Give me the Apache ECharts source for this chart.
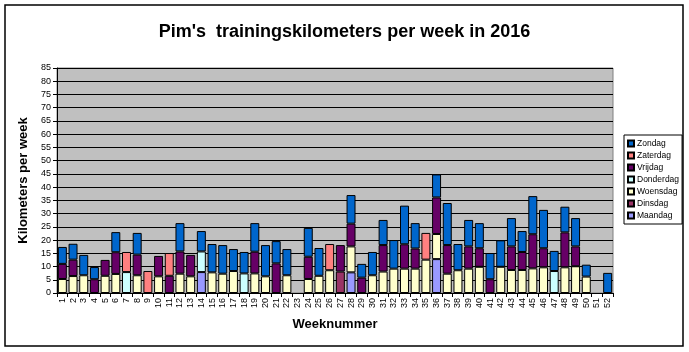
<!DOCTYPE html>
<html>
<head>
<meta charset="utf-8">
<script src="https://cdn.jsdelivr.net/npm/echarts@6/dist/echarts.min.js"></script>
<style>
  html, body { margin: 0; padding: 0; background: #fff; }
  #chart { width: 689px; height: 352px; }
</style>
</head>
<body>
<div id="chart"></div>
<script type="text/javascript">
    var n = null;
    var weeks = [];
    for (var w = 1; w <= 52; w++) { weeks.push(String(w)); }

    // km per day, per week (null = not trained that day)
    var maandag = [n,n,n,n,n,n,n,n,n,n,n,n,n,
                   7.9,n,n,n,n,n,n,n,n,n,n,n,n,
                   n,7.8,n,n,n,n,n,n,n,12.8,n,n,n,
                   n,n,n,n,n,n,n,n,n,n,n,n,n];
    var dinsdag = [n,n,n,n,n,n,n,n,n,n,n,n,n,
                   n,n,n,n,n,n,n,n,n,n,n,n,n,
                   8.1,n,n,n,n,n,n,n,n,n,n,n,n,
                   n,n,n,n,n,n,n,n,n,n,n,n,n];
    var woensdag = [5.3,6.4,6.7,n,6.5,7.2,n,6.7,n,6.3,n,7.3,6.3,
                    n,7.8,7.3,8.3,n,7.4,6.3,n,6.7,n,5.3,6.5,8.6,
                    n,9.8,n,6.7,8.1,9.2,9.2,9.2,12.6,9.5,7.3,8.6,9.2,
                    9.9,n,9.9,8.7,8.7,9.3,9.7,n,9.7,10.1,6.2,n,n];
    var donderdag = [n,n,n,n,n,n,7.9,n,n,n,n,n,n,
                     7.8,n,n,n,7.4,n,n,n,n,n,n,n,n,
                     n,n,n,n,n,n,n,n,n,n,n,n,n,
                     n,n,n,n,n,n,n,8.3,n,n,n,n,n];
    var vrijdag = [5.7,6.2,n,5.2,6.0,8.2,n,7.8,n,7.7,6.5,8.4,8.1,
                   n,n,n,n,n,8.2,n,11.2,n,n,8.4,n,n,
                   10.0,8.6,5.8,n,10.0,n,9.2,7.6,n,13.8,10.8,n,8.4,
                   7.0,5.2,n,8.9,6.8,12.9,7.2,n,13.2,7.5,n,n,n];
    var zaterdag = [n,n,n,n,n,n,7.6,n,8.3,n,8.6,n,n,
                    n,n,n,n,n,n,n,n,n,n,n,n,9.9,
                    n,n,n,n,n,n,n,n,10.1,n,n,n,n,
                    n,n,n,n,n,n,n,n,n,n,n,n,n];
    var zondag = [6.4,6.0,7.7,4.6,n,7.6,n,8.2,n,n,n,10.7,n,
                  7.7,10.7,10.8,8.3,8.1,10.8,11.8,8.4,9.9,n,10.9,10.5,n,
                  n,10.8,5.2,8.8,9.5,10.8,14.6,9.6,n,8.7,15.9,9.9,10.0,
                  9.5,9.9,10.0,10.7,7.9,14.4,14.5,7.6,9.7,10.7,4.5,n,7.6];

    var days = [
        { name: 'Maandag', data: maandag, color: '#9999FF' },
        { name: 'Dinsdag', data: dinsdag, color: '#993366' },
        { name: 'Woensdag', data: woensdag, color: '#FFFFCC' },
        { name: 'Donderdag', data: donderdag, color: '#CCFFFF' },
        { name: 'Vrijdag', data: vrijdag, color: '#660066' },
        { name: 'Zaterdag', data: zaterdag, color: '#FF8080' },
        { name: 'Zondag', data: zondag, color: '#0066CC' }
    ];

    var font = 'Arial, "Liberation Sans", sans-serif';

    var chart = echarts.init(document.getElementById('chart'), null, { renderer: 'canvas' });
    chart.setOption({
        animation: false,
        backgroundColor: '#fff',
        textStyle: { fontFamily: font },
        title: {
            text: "Pim's  trainingskilometers per week in 2016",
            left: 'center',
            top: 18,
            textStyle: { fontSize: 18, fontWeight: 'bold', color: '#000', fontFamily: font }
        },
        legend: {
            orient: 'vertical',
            left: 624,
            top: 135,
            data: days.map(function (d) { return d.name; }).reverse(),
            icon: 'rect',
            itemWidth: 6,
            itemHeight: 6,
            itemGap: 3,
            padding: [4, 3, 4, 3],
            borderColor: '#000',
            borderWidth: 1,
            textStyle: { fontSize: 8.5, color: '#000', padding: [0, 0, 0, -2] }
        },
        grid: {
            left: 57,
            right: 76,
            top: 68,
            bottom: 59,
            show: true,
            backgroundColor: '#C0C0C0',
            borderColor: '#808080',
            borderWidth: 1
        },
        xAxis: {
            type: 'category',
            data: weeks,
            name: 'Weeknummer',
            nameLocation: 'middle',
            nameGap: 25,
            nameTextStyle: { fontSize: 13, fontWeight: 'bold', color: '#000' },
            axisLine: { lineStyle: { color: '#000' } },
            axisTick: { show: true, alignWithLabel: false, length: 4, lineStyle: { color: '#000' } },
            axisLabel: { interval: 0, rotate: 90, fontSize: 9, color: '#000', margin: 5 }
        },
        yAxis: {
            type: 'value',
            min: 0,
            max: 85,
            interval: 5,
            name: 'Kilometers per week',
            nameLocation: 'middle',
            nameGap: 17,
            nameTextStyle: { fontSize: 13, fontWeight: 'bold', color: '#000' },
            axisLine: { show: true, lineStyle: { color: '#000' } },
            axisTick: { show: true, length: 4, lineStyle: { color: '#000' } },
            axisLabel: { fontSize: 9, color: '#000', margin: 6 },
            splitLine: { show: true, lineStyle: { color: '#000', width: 1 } }
        },
        graphic: [{
            type: 'rect',
            shape: { x: 5, y: 5, width: 678, height: 341 },
            style: { fill: 'none', stroke: '#000', lineWidth: 1.5 },
            silent: true
        }],
        series: days.map(function (d) {
            return {
                name: d.name,
                type: 'bar',
                stack: 'week',
                data: d.data,
                barCategoryGap: '16%',
                itemStyle: { color: d.color, borderColor: '#000', borderWidth: 1 }
            };
        })
    });
</script>
</body>
</html>
